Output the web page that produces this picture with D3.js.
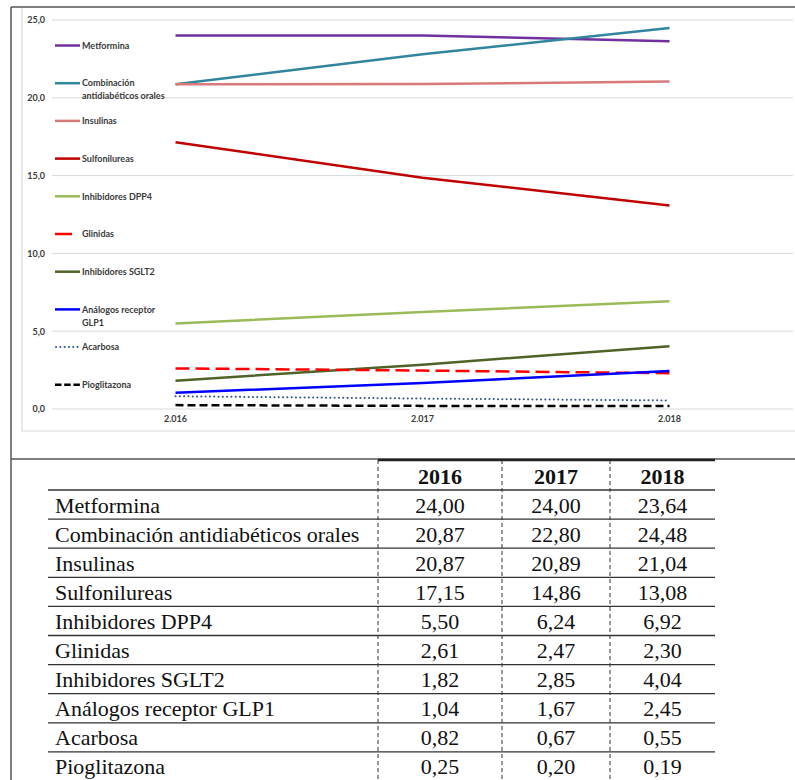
<!DOCTYPE html>
<html><head><meta charset="utf-8">
<script src="https://cdn.jsdelivr.net/npm/d3@7"></script>
<style>html,body{margin:0;padding:0;background:#fff;}svg{display:block;}</style>
</head><body>
<script>
const years = [2016, 2017, 2018];
const series = ["Metformina","Combinación antidiabéticos orales","Insulinas","Sulfonilureas","Inhibidores DPP4","Glinidas","Inhibidores SGLT2","Análogos receptor GLP1","Acarbosa","Pioglitazona"];
const legendLabels = [["Metformina"],["Combinación","antidiabéticos orales"],["Insulinas"],["Sulfonilureas"],["Inhibidores DPP4"],["Glinidas"],["Inhibidores SGLT2"],["Análogos receptor","GLP1"],["Acarbosa"],["Pioglitazona"]];
const values2016 = [24.00, 20.87, 20.87, 17.15, 5.50, 2.61, 1.82, 1.04, 0.82, 0.25];
const values2017 = [24.00, 22.80, 20.89, 14.86, 6.24, 2.47, 2.85, 1.67, 0.67, 0.20];
const values2018 = [23.64, 24.48, 21.04, 13.08, 6.92, 2.30, 4.04, 2.45, 0.55, 0.19];
const yTicks = [0, 5, 10, 15, 20, 25];

const colors = ["#7030A0","#31859C","#D9797A","#C00000","#9BBB59","#FF0000","#4F6228","#0000FF","#34558C","#000000"];
const dashes = [null,null,null,null,null,"14,6",null,null,"0.1,4.2","8,4"];
const widths = [2.5,2.5,2.5,2.5,2.5,2.5,2.5,2.5,2,2.5];

const W = 795, H = 780;
const svg = d3.select("body").append("svg").attr("width", W).attr("height", H);

const loc = d3.formatLocale({decimal: ",", thousands: ".", grouping: [3], currency: ["", "€"]});
const fmtYear = loc.format(",");
const fmtTick = loc.format(".1f");
const fmtVal = loc.format(".2f");

const valuesByYear = [values2016, values2017, values2018];
const sans = "Lato, 'Liberation Sans', sans-serif";

// frame
const frame = svg.append("g").attr("fill","none").attr("stroke","#555").attr("stroke-width",1.5);
frame.append("line").attr("x1",11).attr("x2",W).attr("y1",7).attr("y2",7);
frame.append("line").attr("x1",11).attr("x2",11).attr("y1",7).attr("y2",H);
frame.append("line").attr("x1",11).attr("x2",W).attr("y1",459).attr("y2",459);

// inner plot area border
svg.append("path").attr("d","M22,8 V431 H795").attr("fill","none").attr("stroke","#d9d9d9").attr("stroke-width",1.2);

const x = d3.scaleBand().domain(years).range([52, 793]);
const y = d3.scaleLinear().domain([0, 25]).range([409, 20]);
const xc = d => x(d) + x.bandwidth()/2;

// gridlines
svg.append("g").selectAll("line").data(yTicks).join("line")
  .attr("x1", 52).attr("x2", 793)
  .attr("y1", d => y(d)).attr("y2", d => y(d))
  .attr("stroke", "#d9d9d9").attr("stroke-width", 1);

// y axis labels
const yAxis = d3.axisLeft(y).tickValues(yTicks).tickFormat(fmtTick).tickSize(0).tickPadding(0);
const ya = svg.append("g").attr("transform","translate(45,0)").call(yAxis);
ya.select(".domain").remove();
ya.selectAll("text").attr("font-family",sans).attr("font-weight","bold").attr("font-size","9px").attr("fill","#3a3a3a");

// x axis labels
const xAxis = d3.axisBottom(x).tickFormat(fmtYear).tickSize(0).tickPadding(0);
const xa = svg.append("g").attr("transform","translate(0,416)").call(xAxis);
xa.select(".domain").remove();
xa.selectAll("text").attr("font-family",sans).attr("font-weight","bold").attr("font-size","9px").attr("fill","#3a3a3a");

// lines
const line = d3.line().x(d => xc(d.year)).y(d => y(d.v));
const drawOrder = [0,1,2,3,4,6,5,7,8,9];
svg.append("g").selectAll("path").data(drawOrder).join("path")
  .attr("d", i => line(years.map((yr, j) => ({year: yr, v: valuesByYear[j][i]}))))
  .attr("fill","none")
  .attr("stroke", i => colors[i])
  .attr("stroke-width", i => widths[i])
  .attr("stroke-dasharray", i => dashes[i])
  .attr("stroke-linecap", i => i === 8 ? "round" : "butt");

// legend
const legY = d3.scaleLinear().domain([0, 9]).range([45.5, 384.8]);
const leg = svg.append("g").selectAll("g").data(series).join("g")
  .attr("transform", (d, i) => `translate(0,${legY(i)})`);
leg.append("line").attr("x1",(d,i)=> i===8 ? 56 : 55).attr("x2",80).attr("y1",0).attr("y2",0)
  .attr("stroke",(d,i)=>colors[i]).attr("stroke-width",(d,i)=>widths[i])
  .attr("stroke-dasharray",(d,i)=> i===5 ? "17,30" : (i===9 ? "6.5,2.7" : dashes[i]))
  .attr("stroke-linecap",(d,i)=> i===8 ? "round" : "butt");
leg.each(function(d, i) {
  const t = d3.select(this).append("text").attr("x", 82).attr("y", 3.2)
    .attr("font-family",sans).attr("font-weight","bold")
    .attr("font-size","9px").attr("fill","#3a3a3a");
  legendLabels[i].forEach((s, k) => {
    t.append("tspan").attr("x", 82).attr("dy", k === 0 ? 0 : 13).text(s);
  });
});

// table
const tbl = svg.append("g");
const colX = [378, 502, 610, 715];
const rowTop = 490, rowH = 29.1;
const tableLeft = 48, tableRight = 715;
const serif = "'Liberation Serif', 'Times New Roman', serif";

tbl.append("line").attr("x1",378).attr("x2",715).attr("y1",460).attr("y2",460).attr("stroke","#222").attr("stroke-width",2.5);
const rowIdx = d3.range(series.length + 1);
tbl.selectAll("line.row").data(rowIdx).join("line").attr("class","row")
  .attr("x1", tableLeft).attr("x2", tableRight)
  .attr("y1", i => rowTop + i*rowH).attr("y2", i => rowTop + i*rowH)
  .attr("stroke","#333").attr("stroke-width",1.3);
tbl.selectAll("line.col").data(colX.slice(0,3)).join("line").attr("class","col")
  .attr("x1", d => d).attr("x2", d => d).attr("y1", 460).attr("y2", H)
  .attr("stroke","#333").attr("stroke-width",1).attr("stroke-dasharray","4,3");
const colCenter = j => (colX[j] + colX[j+1]) / 2;
tbl.selectAll("text.hdr").data(years).join("text").attr("class","hdr")
  .attr("x", (d,j) => colCenter(j)).attr("y", 484)
  .attr("text-anchor","middle").attr("font-family",serif).attr("font-weight","bold").attr("font-size","22px").attr("fill","#111")
  .text(d => d);
tbl.selectAll("text.lbl").data(series).join("text").attr("class","lbl")
  .attr("x", 55).attr("y", (d,i) => rowTop + i*rowH + 22.5)
  .attr("font-family",serif).attr("font-size","22px").attr("fill","#111")
  .text(d => d);
valuesByYear.forEach((vals, j) => {
  tbl.selectAll("text.v"+j).data(vals).join("text").attr("class","v"+j)
    .attr("x", colCenter(j)).attr("y", (d,i) => rowTop + i*rowH + 22.5)
    .attr("text-anchor","middle").attr("font-family",serif).attr("font-size","22px").attr("fill","#111")
    .text(d => fmtVal(d));
});
</script>
</body></html>
